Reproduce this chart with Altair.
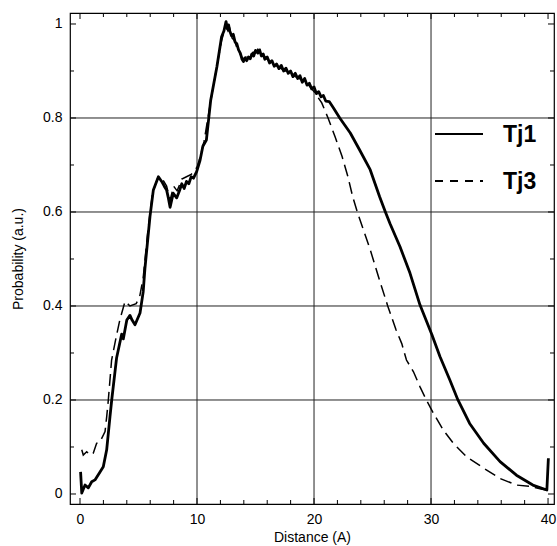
import altair as alt
import pandas as pd

# ---- data ----
tj1_x = [0.05, 0.15, 0.43, 0.71, 1.0, 1.28, 1.71, 1.99, 2.28, 2.56, 2.71, 3.13, 3.56, 3.7, 4.0, 4.27, 4.45, 4.7, 5.13,
         5.4, 5.55, 5.98, 6.27, 6.7, 6.98, 7.2, 7.4, 7.55, 7.7, 7.97, 8.26, 8.5, 8.7, 8.9, 9.1, 9.3, 9.5, 9.7, 9.97,
         10.26, 10.5, 10.8, 11.17, 11.7, 12.1, 12.3, 12.48, 12.6, 12.7, 12.8, 12.95, 13.1, 13.25, 13.4, 13.55, 13.7,
         13.85, 13.97, 14.1, 14.25, 14.4, 14.55, 14.7, 14.85, 15.0, 15.2, 15.35, 15.5, 15.66, 15.8, 16.0, 16.2, 16.4,
         16.6, 16.8, 17.0, 17.2, 17.4, 17.6, 17.8, 18.0, 18.2, 18.4, 18.6, 18.8, 19.0, 19.2, 19.4, 19.6, 19.8, 20.0,
         20.2, 20.4, 20.6, 20.8, 21.0, 21.3, 21.65, 22.2, 23.1, 23.9, 24.8, 25.6, 26.1, 26.5, 27.35, 28.2, 29.06,
         30.06, 30.77, 31.6, 32.3, 33.3, 34.5, 35.9, 37.3, 38.7, 39.9, 40.03]
tj1_y = [0.047, 0.002, 0.019, 0.013, 0.026, 0.03, 0.047, 0.058, 0.094, 0.164, 0.2, 0.29, 0.34, 0.33, 0.37, 0.38, 0.37,
         0.36, 0.385, 0.43, 0.48, 0.59, 0.647, 0.675, 0.665, 0.655, 0.647, 0.63, 0.61, 0.64, 0.63, 0.645, 0.66, 0.65,
         0.665, 0.66, 0.675, 0.672, 0.686, 0.71, 0.74, 0.753, 0.838, 0.909, 0.973, 0.985, 1.005, 0.99, 0.998, 0.985,
         0.975, 0.978, 0.962, 0.958, 0.945, 0.938, 0.925, 0.92, 0.928, 0.922, 0.93, 0.926, 0.936, 0.932, 0.944,
         0.938, 0.945, 0.932, 0.936, 0.925, 0.93, 0.917, 0.922, 0.91, 0.915, 0.905, 0.912, 0.9, 0.906, 0.895, 0.9,
         0.888, 0.895, 0.884, 0.89, 0.876, 0.884, 0.87, 0.874, 0.862, 0.866, 0.852, 0.856, 0.845, 0.848, 0.836,
         0.835, 0.822, 0.8, 0.768, 0.732, 0.69, 0.633, 0.6, 0.575, 0.526, 0.47, 0.402, 0.34, 0.292, 0.243, 0.2,
         0.15, 0.108, 0.069, 0.04, 0.019, 0.0085, 0.076]

tj3_x = [0.15, 0.28, 0.57, 0.85, 1.14, 1.42, 1.71, 2.14, 2.28, 2.42, 2.7, 3.1, 3.4, 3.85, 4.27, 4.8, 5.1, 5.4, 5.8,
         6.2, 6.6, 7.0, 7.4, 7.7, 8.0, 8.3, 8.7, 9.1, 9.5, 10.0, 10.3, 10.6, 11.0, 11.2, 11.7, 12.1, 12.45, 12.65,
         12.8, 13.0, 13.2, 13.4, 13.6, 13.8, 14.0, 14.2, 14.4, 14.6, 14.8, 15.0, 15.2, 15.4, 15.6, 15.8, 16.0, 16.3,
         16.6, 16.9, 17.2, 17.5, 17.8, 18.1, 18.4, 18.7, 19.0, 19.3, 19.6, 19.8, 20.1, 20.66, 21.2, 21.8, 22.4,
         22.9, 23.3, 23.7, 24.8, 25.6, 26.3, 27.0, 27.5, 27.9, 28.5, 29.06, 29.6, 30.2, 31.05, 31.9, 33.05, 34.5,
         35.9, 37.3, 38.5, 39.5, 40.0]
tj3_y = [0.094, 0.083, 0.09, 0.083, 0.087, 0.108, 0.111, 0.133, 0.164, 0.2, 0.285, 0.335, 0.37, 0.41, 0.4, 0.405,
         0.42, 0.46, 0.56, 0.64, 0.67, 0.672, 0.655, 0.625, 0.655, 0.645, 0.67, 0.675, 0.68, 0.695, 0.72, 0.75,
         0.81, 0.84, 0.91, 0.965, 0.995, 0.985, 0.99, 0.97, 0.965, 0.95, 0.94, 0.93, 0.925, 0.93, 0.928, 0.935,
         0.94, 0.938, 0.946, 0.94, 0.938, 0.93, 0.925, 0.92, 0.915, 0.91, 0.905, 0.9, 0.9, 0.893, 0.888, 0.885,
         0.88, 0.875, 0.868, 0.862, 0.853, 0.832, 0.8, 0.76, 0.718, 0.675, 0.633, 0.6, 0.52, 0.455, 0.4, 0.35,
         0.32, 0.285, 0.26, 0.228, 0.2, 0.172, 0.136, 0.108, 0.079, 0.055, 0.033, 0.019, 0.016, 0.01, 0.008]

x_tick_labels = [0, 10, 20, 30, 40]
y_tick_labels = [0, 0.2, 0.4, 0.6, 0.8, 1]
x_grid = [10, 20, 30]
y_grid = [0.2, 0.4, 0.6, 0.8]
x_minor = [2, 4, 6, 8, 12, 14, 16, 18, 22, 24, 26, 28, 32, 34, 36, 38]
y_minor = [0.1, 0.3, 0.5, 0.7, 0.9]
series_names = ["Tj1", "Tj3"]

FONT = "Liberation Sans"
W, H = 484, 491

xscale = alt.Scale(domain=[-0.855, 40.51], nice=False, zero=False)
yscale = alt.Scale(domain=[-0.0213, 1.0234], nice=False, zero=False)
xaxis = alt.Axis(values=x_tick_labels, grid=False, ticks=False, domain=False, labelFont=FONT, labelFontSize=14,
                 labelColor="black", labelPadding=8, titleFont=FONT, titleFontSize=14, titleFontWeight="normal",
                 titleColor="black", titlePadding=4)
yaxis = alt.Axis(values=y_tick_labels, format="~g", grid=False, ticks=False, domain=False, labelFont=FONT,
                 labelFontSize=14, labelColor="black", labelPadding=8, titleFont=FONT, titleFontSize=14,
                 titleFontWeight="normal", titleColor="black", titlePadding=17)


def X(field):
    return alt.X(field, type="quantitative", scale=xscale, axis=xaxis, title="Distance (A)")


def Y(field):
    return alt.Y(field, type="quantitative", scale=yscale, axis=yaxis, title="Probability (a.u.)")


df1 = pd.DataFrame({"x": tj1_x, "y": tj1_y})
df3 = pd.DataFrame({"x": tj3_x, "y": tj3_y})

vgrid = alt.Chart(pd.DataFrame({"v": x_grid})).mark_rule(color="#222", strokeWidth=1).encode(x=X("v"))
hgrid = alt.Chart(pd.DataFrame({"v": y_grid})).mark_rule(color="#222", strokeWidth=1).encode(y=Y("v"))

xt_major = pd.DataFrame({"v": x_tick_labels})
xt_minor = pd.DataFrame({"v": x_minor})
yt_major = pd.DataFrame({"v": y_tick_labels})
yt_minor = pd.DataFrame({"v": y_minor})

ticks = []
for d, ln in [(xt_major, 6), (xt_minor, 4)]:
    ticks.append(alt.Chart(d).mark_rule(color="black", strokeWidth=1).encode(
        x=X("v"), y=alt.value(H), y2=alt.value(H - ln)))
    ticks.append(alt.Chart(d).mark_rule(color="black", strokeWidth=1).encode(
        x=X("v"), y=alt.value(0), y2=alt.value(ln)))
for d, ln in [(yt_major, 6), (yt_minor, 4)]:
    ticks.append(alt.Chart(d).mark_rule(color="black", strokeWidth=1).encode(
        y=Y("v"), x=alt.value(0), x2=alt.value(ln)))
    ticks.append(alt.Chart(d).mark_rule(color="black", strokeWidth=1).encode(
        y=Y("v"), x=alt.value(W), x2=alt.value(W - ln)))

line1 = alt.Chart(df1).mark_line(color="black", strokeWidth=2.8, clip=True, strokeJoin="round").encode(
    x=X("x"), y=Y("y"), order="x:Q")
line3 = alt.Chart(df3).mark_line(color="black", strokeWidth=1.5, strokeDash=[12, 6], clip=True).encode(
    x=X("x"), y=Y("y"), order="x:Q")

leg1_line = alt.Chart(pd.DataFrame({"s": [series_names[0]]})).mark_rule(color="black", strokeWidth=2.2).encode(
    x=alt.value(365), x2=alt.value(413), y=alt.value(121))
leg3_line = alt.Chart(pd.DataFrame({"s": [series_names[1]]})).mark_rule(
    color="black", strokeWidth=2.2, strokeDash=[8, 7]).encode(
    x=alt.value(365), x2=alt.value(413), y=alt.value(168))
leg1_text = alt.Chart(pd.DataFrame({"s": [series_names[0]]})).mark_text(
    font=FONT, fontSize=23, fontWeight="bold", align="left", baseline="middle", color="black").encode(
    x=alt.value(433), y=alt.value(122), text="s:N")
leg3_text = alt.Chart(pd.DataFrame({"s": [series_names[1]]})).mark_text(
    font=FONT, fontSize=23, fontWeight="bold", align="left", baseline="middle", color="black").encode(
    x=alt.value(433), y=alt.value(169), text="s:N")

chart = alt.layer(vgrid, hgrid, *ticks, line1, line3, leg1_line, leg3_line, leg1_text, leg3_text).properties(
    width=W, height=H,
    autosize=alt.AutoSizeParams(type="none"),
    padding={"left": 70, "top": 13, "right": 3, "bottom": 42},
    background="white",
).configure_view(stroke="black", strokeWidth=1.2)

chart.save("out.html", embed_options={"renderer": "svg", "actions": False})
